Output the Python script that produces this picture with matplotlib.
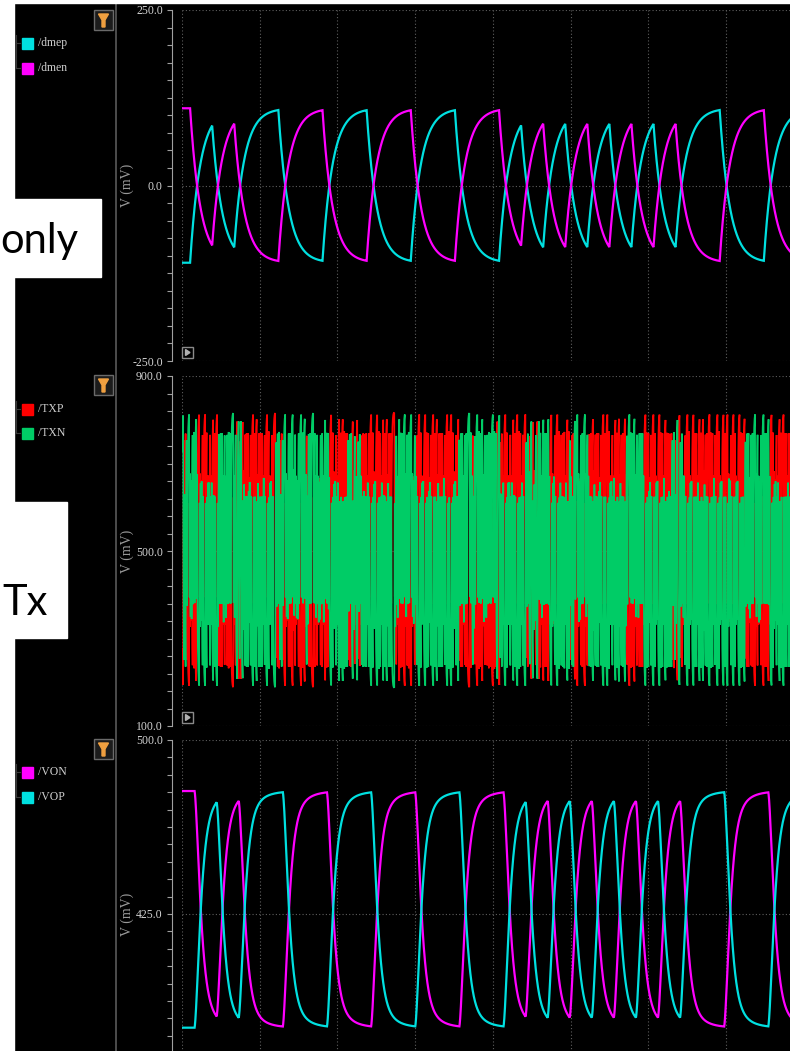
import numpy as np
import matplotlib
matplotlib.use("Agg")
import matplotlib.pyplot as plt
from matplotlib.patches import Rectangle, Polygon

W, H = 790, 1051

# ---------------- data ----------------
# low-speed DME pair: one entry per unit interval (1 = /dmep high)
dme_ui_ns = 2.84
dme_start_ns = -16.0
dmep_bits = [0, 0, 0, 0, 0, 0,
             1, 0, 1, 1, 0, 0, 1, 1, 0, 0, 1, 1, 0, 0,
             1, 0, 1, 0, 1, 0, 1, 0, 1, 1, 0, 0, 1, 1]
dme_level_mv = 110.0

# receiver output pair (VON / VOP)
vo_center_mv = 427.0
vo_level_mv = 51.0
vo_delay_ns = 0.58

# high-speed TX bit stream (hex coded, /TXP polarity)
tx_hex = ("9C36" "42A48" "BD5BDAB5DBD" "24A52482" "9C63A" "DB5BDBADB5BDAB7"
          "C936" "42A4852A4245A48252A4A24" "BDAB5DBB" "6C93A5C96"
          "DB5BDABDB5DBADBF" "4A2485242A" "5BDABDB5BDBADB5BDBDAB7"
          "24A4825A4248A52484" "9C36" "BDAB5DBDB5B" "C963A9C" "4A248"
          "BD5BDADB5D" "96C" "42A4852" "DBADB5BDBDAB5DBADB" "A4248A524"
          "BDB5BDABDB5DB" "6C9A3C9" "5BDABDB5DBADBDB5BDABDBD5BDABDB7"
          "24A4852A4248" "BDAB5DBDB5BD")
tx_ui_ns = 0.0644
tx_start_ns = -0.5
tx_center_mv = 502.0
tx_swing_mv = 315.0

legend_labels = [["/dmep", "/dmen"], ["/TXP", "/TXN"], ["/VON", "/VOP"]]
legend_colors = [["#00e0e0", "#ff00ff"], ["#ff0000", "#00cc66"], ["#ff00ff", "#00e0e0"]]
y_major = [[-250.0, 0.0, 250.0], [100.0, 500.0, 900.0], [350.0, 425.0, 500.0]]
y_major_labels = [["-250.0", "0.0", "250.0"], ["100.0", "500.0", "900.0"], ["", "425.0", "500.0"]]
y_minor_step = [25.0, 40.0, 7.5]

plt.rcParams["font.family"] = ["Liberation Serif", "DejaVu Serif"]

# ---------------- signal shaping ----------------
t_end = (W - 182) / 7.77


def nrz(levels, start, ui, tt):
    idx = np.floor((tt - start) / ui).astype(int)
    idx = np.clip(idx, 0, len(levels) - 1)
    return np.asarray(levels, dtype=float)[idx]


def rc(x, tau, dt):
    a = 1.0 - np.exp(-dt / tau)
    y = np.empty_like(x)
    acc = x[0]
    for i, v in enumerate(x):
        acc += a * (v - acc)
        y[i] = acc
    return y


dt = 0.01
t = np.arange(-16.0, t_end + dt, dt)
dme_sym = np.where(np.array(dmep_bits) == 1, 1.0, -1.0)
dmep = rc(nrz(dme_sym * dme_level_mv, dme_start_ns, dme_ui_ns, t), 1.3, dt)
dmen = rc(nrz(-dme_sym * dme_level_mv, dme_start_ns, dme_ui_ns, t), 1.3, dt)

vo_in = nrz(dme_sym, dme_start_ns, dme_ui_ns, t - vo_delay_ns)
vo_shape = 0.75 * rc(rc(vo_in, 0.45, dt), 0.45, dt) + 0.25 * rc(vo_in, 1.5, dt)
vop = vo_center_mv + vo_level_mv * vo_shape
von = vo_center_mv - vo_level_mv * vo_shape

dtx = 0.004
tt = np.arange(tx_start_ns, t_end + dtx, dtx)
tx_bits = np.array([int(b) for h in tx_hex for b in format(int(h, 16), "04b")])
tx_sym = np.where(tx_bits == 1, 1.0, -1.0)
tx_f = tx_swing_mv * rc(nrz(tx_sym, tx_start_ns, tx_ui_ns, tt), 0.9 * tx_ui_ns, dtx)
txp = tx_center_mv + tx_f
txn = tx_center_mv - tx_f

# ---------------- figure ----------------
fig = plt.figure(figsize=(W / 100, H / 100), dpi=100)
fig.patch.set_facecolor("black")


def rect(l, tp, r, b):
    return [l / W, 1 - b / H, (r - l) / W, (b - tp) / H]


panels = [(10, 361), (376, 726), (740, 1088)]
series = [[(t, dmep), (t, dmen)], [(tt, txp), (tt, txn)], [(t, von), (t, vop)]]
lws = [1.6, 1.2, 1.6]

for p, (top, bot) in enumerate(panels):
    ax = fig.add_axes(rect(182, top, 790, bot))
    ax.set_facecolor("black")
    for (xx, yy), c in zip(series[p], legend_colors[p]):
        ax.plot(xx, yy, color=c, lw=lws[p], solid_joinstyle="miter")
    lo, mid, hi = y_major[p]
    ax.set_ylim(lo, hi)
    ax.set_xlim(0, t_end)
    ax.set_yticks(y_major[p], labels=y_major_labels[p])
    ax.set_yticks(np.arange(lo, hi + 1e-6, y_minor_step[p]), minor=True)
    ax.set_xticks(np.arange(0, t_end, 10))
    ax.tick_params(axis="x", length=0, labelbottom=False)
    ax.tick_params(axis="y", which="both", direction="out", length=3.6,
                   width=0.8, color="#a0a0a0", labelcolor="#d2d2d2",
                   labelsize=8.5, pad=3)
    ax.grid(True, which="major", color="#5e5e5e", linestyle=(0, (1, 2)), lw=0.8)
    for s in ["top", "right", "bottom"]:
        ax.spines[s].set_visible(False)
    ax.spines["left"].set_position(("outward", 7.2))
    ax.spines["left"].set_color("#a0a0a0")
    ax.set_ylabel("V (mV)", fontsize=10, color="#9a9a9a")
    ax.yaxis.set_label_coords(-(182 - 134) / 608, 0.5)
    ax.set_zorder(1)

# ---------------- overlay (pixel coordinates) ----------------
ov = fig.add_axes([0, 0, 1, 1])
ov.set_xlim(0, W)
ov.set_ylim(H, 0)
ov.axis("off")
ov.set_zorder(5)

ov.add_patch(Rectangle((0, 0), 14, H, color="white", zorder=3))
ov.add_patch(Rectangle((0, 0), W, 3, color="white", zorder=3))
ov.plot([116, 116], [3, H], color="#5a5a5a", lw=1.2)

legend_rows = [(43, 68), (409, 433), (772, 797)]
filter_tops = [10, 375, 739]
for p in range(3):
    r1, r2 = legend_rows[p]
    ov.plot([16, 16], [r1 - 8, r2], color="#3a3a3a", lw=0.8)
    for r, lab, c in zip(legend_rows[p], legend_labels[p], legend_colors[p]):
        ov.plot([16, 20], [r, r], color="#3a3a3a", lw=0.8)
        ov.add_patch(Rectangle((22, r - 5.5), 11, 11, color=c))
        ov.text(38, r, lab, fontsize=8.5, color="#cfcfcf",
                va="center", ha="left")
    ft = filter_tops[p]
    ov.add_patch(Rectangle((94, ft), 19, 20, facecolor="#1c1c1c",
                           edgecolor="#6a6a6a", lw=1))
    ov.add_patch(Polygon([(98.5, ft + 4), (108.5, ft + 4), (105, ft + 10),
                          (105, ft + 17), (102, ft + 17), (102, ft + 10)],
                         closed=True, facecolor="#f0a040", edgecolor="#f0a040"))

for yb in [358, 723]:
    ov.add_patch(Rectangle((182, yb - 11), 11, 11, facecolor="black",
                           edgecolor="#8a8a8a", lw=1))
    ov.add_patch(Polygon([(185.5, yb - 8.5), (185.5, yb - 2.5), (190, yb - 5.5)],
                         closed=True, color="#b0b0b0"))

ov.add_patch(Rectangle((0, 199), 101, 78, color="white", zorder=4))
ov.text(78, 253, "only", family="Lato", fontsize=30, color="black",
        ha="right", va="baseline", zorder=5)
ov.add_patch(Rectangle((0, 502), 67, 136, color="white", zorder=4))
ov.text(2, 615, "Tx", family="Lato", fontsize=30, color="black",
        ha="left", va="baseline", zorder=5)

fig.savefig("out.png", dpi=100, facecolor="black")
